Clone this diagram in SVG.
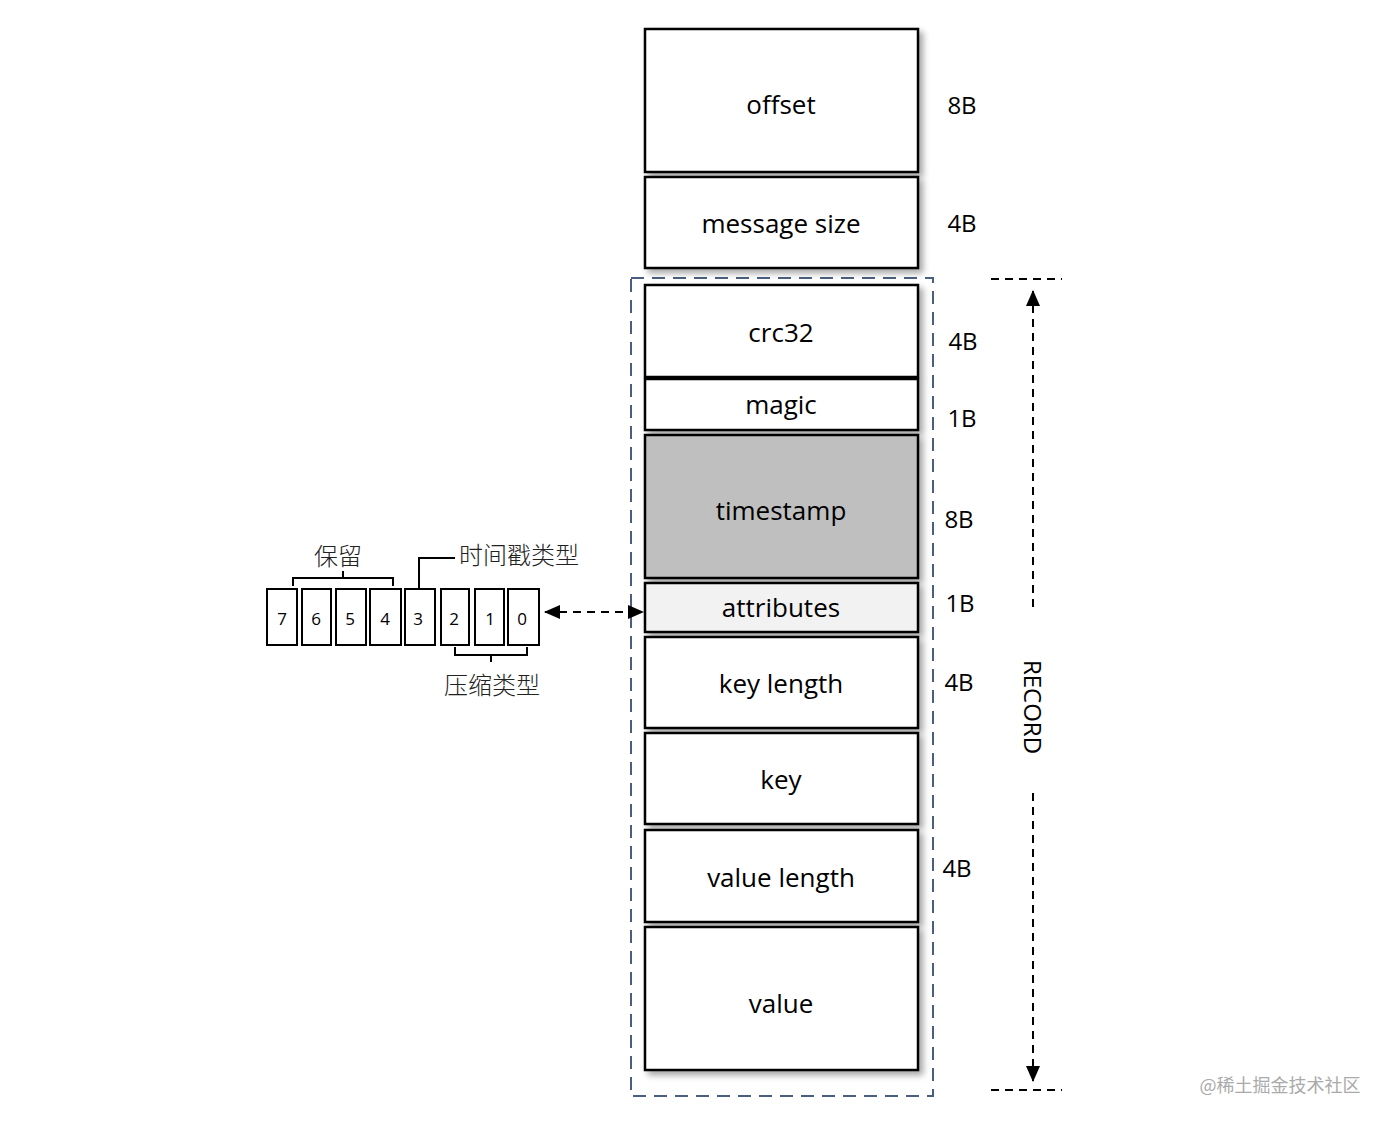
<svg xmlns="http://www.w3.org/2000/svg" width="1388" height="1122" viewBox="0 0 1388 1122">
<defs>
<filter id="sh" x="-10%" y="-10%" width="130%" height="130%">
<feDropShadow dx="4" dy="4" stdDeviation="3" flood-color="#000" flood-opacity="0.35"/>
</filter>
<marker id="ah2" markerWidth="16" markerHeight="14" refX="15" refY="7" orient="auto-start-reverse" markerUnits="userSpaceOnUse">
<path d="M0,0 L16,7 L0,14 z" fill="#000"/>
</marker>
</defs>
<style>
.box{fill:#fff;stroke:#000;stroke-width:2.5;filter:url(#sh)}
.lbl{font-family:"Open Sans","Noto Sans",sans-serif;font-size:26px;fill:#000;text-anchor:middle;dominant-baseline:central}
.sz{font-family:"Open Sans","Noto Sans",sans-serif;font-size:24px;fill:#000;text-anchor:middle;dominant-baseline:central}
.bit{fill:#fff;stroke:#000;stroke-width:2}
.bt{font-family:"Open Sans","Noto Sans",sans-serif;font-size:17px;fill:#000;text-anchor:middle;dominant-baseline:central}
.cn{font-family:"Noto Sans CJK SC",sans-serif;font-size:24px;font-weight:300;fill:#222;dominant-baseline:central}
.br{fill:none;stroke:#000;stroke-width:2}
.dash{fill:none;stroke:#000;stroke-width:2;stroke-dasharray:8,6}
</style>
<rect x="631" y="278" width="302" height="818" fill="none" stroke="#4a5f80" stroke-width="2" stroke-dasharray="13,8"/>
<g id="offset"><rect class="box" x="645" y="29" width="273" height="143"/><text class="lbl" x="781" y="104">offset</text><text class="sz" x="962" y="104">8B</text></g>
<g id="message-size"><rect class="box" x="645" y="177" width="273" height="91"/><text class="lbl" x="781" y="223">message size</text><text class="sz" x="962" y="222">4B</text></g>
<g id="crc32"><rect class="box" x="645" y="285" width="273" height="92"/><text class="lbl" x="781" y="332">crc32</text><text class="sz" x="963" y="340">4B</text></g>
<g id="magic"><rect class="box" x="645" y="379" width="273" height="51"/><text class="lbl" x="781" y="404">magic</text><text class="sz" x="962" y="417">1B</text></g>
<g id="timestamp"><rect class="box" x="645" y="435" width="273" height="143" style="fill:#bfbfbf"/><text class="lbl" x="781" y="510">timestamp</text><text class="sz" x="959" y="518">8B</text></g>
<g id="attributes"><rect class="box" x="645" y="583" width="273" height="49" style="fill:#f2f2f2"/><text class="lbl" x="781" y="607">attributes</text><text class="sz" x="960" y="602">1B</text></g>
<g id="key-length"><rect class="box" x="645" y="637" width="273" height="91"/><text class="lbl" x="781" y="683">key length</text><text class="sz" x="959" y="681">4B</text></g>
<g id="key"><rect class="box" x="645" y="733" width="273" height="91"/><text class="lbl" x="781" y="779">key</text></g>
<g id="value-length"><rect class="box" x="645" y="830" width="273" height="92"/><text class="lbl" x="781" y="877">value length</text><text class="sz" x="957" y="867">4B</text></g>
<g id="value"><rect class="box" x="645" y="927" width="273" height="143"/><text class="lbl" x="781" y="1003">value</text></g>
<g id="bits">
<rect class="bit" x="267" y="589" width="30" height="56"/><text class="bt" x="282" y="618">7</text>
<rect class="bit" x="302" y="589" width="29" height="56"/><text class="bt" x="316" y="618">6</text>
<rect class="bit" x="336" y="589" width="30" height="56"/><text class="bt" x="350" y="618">5</text>
<rect class="bit" x="370" y="589" width="31" height="56"/><text class="bt" x="385" y="618">4</text>
<rect class="bit" x="405" y="589" width="30" height="56"/><text class="bt" x="418" y="618">3</text>
<rect class="bit" x="441" y="589" width="28" height="56"/><text class="bt" x="454" y="618">2</text>
<rect class="bit" x="475" y="589" width="29" height="56"/><text class="bt" x="490" y="618">1</text>
<rect class="bit" x="508" y="589" width="31" height="56"/><text class="bt" x="522" y="618">0</text>
</g>
<g id="annotations">
<path class="br" d="M293,586 V578 H393 V586 M343,578 V571"/>
<text class="cn" x="338" y="554" text-anchor="middle">保留</text>
<path class="br" d="M419,589 V558 H455"/>
<text class="cn" x="459" y="553">时间戳类型</text>
<path class="br" d="M455,647 V655 H527 V647 M491,655 V662"/>
<text class="cn" x="492" y="683" text-anchor="middle">压缩类型</text>
</g>
<g id="connectors">
<line class="dash" x1="545" y1="612" x2="643" y2="612" marker-start="url(#ah2)" marker-end="url(#ah2)"/>
<line class="dash" x1="991" y1="279" x2="1062" y2="279"/>
<line class="dash" x1="991" y1="1090" x2="1062" y2="1090"/>
<line class="dash" x1="1033" y1="607" x2="1033" y2="291" marker-end="url(#ah2)"/>
<line class="dash" x1="1033" y1="793" x2="1033" y2="1081" marker-end="url(#ah2)"/>
</g>
<g id="record-label"><text class="sz" x="0" y="0" transform="translate(1033,707) rotate(90)">RECORD</text></g>
<text x="1280" y="1084" font-family="Noto Sans CJK SC,sans-serif" font-size="18" fill="#aaa" text-anchor="middle" dominant-baseline="central">@稀土掘金技术社区</text>
</svg>
